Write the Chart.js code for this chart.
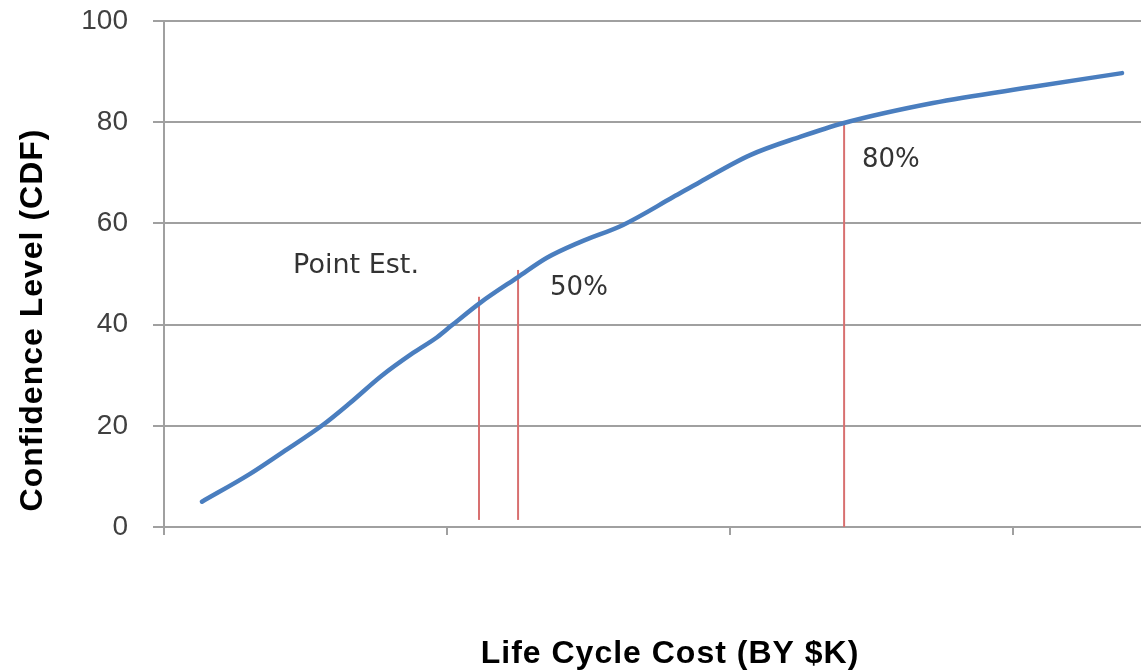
<!DOCTYPE html>
<html>
<head>
<meta charset="utf-8">
<style>
  html, body { margin: 0; padding: 0; background: #ffffff; }
  #wrap { width: 1141px; height: 671px; }
</style>
<script src="https://cdn.jsdelivr.net/npm/chart.js@4.4.1/dist/chart.umd.min.js"></script>
</head>
<body>
<div id="wrap"><canvas id="c" width="1141" height="671"></canvas></div>
<script>
// ---- data ----
const curveX = [0.134, 0.304, 0.420, 0.562, 0.657, 0.767, 0.880, 0.965, 1.018, 1.117, 1.251, 1.353, 1.470, 1.622, 1.799, 1.894, 2.071, 2.247, 2.399, 2.717, 3.071, 3.385];
const curveY = [5.0, 10.5, 14.8, 20.2, 24.5, 29.8, 34.4, 37.5, 39.9, 44.3, 49.4, 53.2, 56.3, 59.7, 65.2, 68.2, 73.5, 77.1, 79.8, 83.8, 87.0, 89.7];

const markerX = [1.113, 1.251, 2.403];
const markerBottom = [1.4, 1.4, 0];
const markerTop = [45.5, 50.8, 80];

const labelText = ['Point Est.', '50%', '80%'];
const labelX = [0.456, 1.364, 2.466];
const labelY = [50.2, 45.8, 71.1];

const yTicks = [0, 20, 40, 60, 80, 100];
const xTitle = 'Life Cycle Cost (BY $K)';
const yTitle = 'Confidence Level (CDF)';

// ---- build datasets ----
const curveData = curveX.map((x, i) => ({ x: x, y: curveY[i] }));
const datasets = [{
  label: 'CDF',
  data: curveData,
  borderColor: '#4a7ebf',
  borderWidth: 4.5,
  pointRadius: 0,
  cubicInterpolationMode: 'monotone',
  borderCapStyle: 'round',
  fill: false,
  order: 0
}];
markerX.forEach((x, i) => {
  datasets.push({
    label: 'marker' + i,
    data: [{ x: x, y: markerBottom[i] }, { x: x, y: markerTop[i] }],
    borderColor: '#d87070',
    borderWidth: 2,
    pointRadius: 0,
    fill: false,
    order: 1
  });
});

const textPlugin = {
  id: 'texts',
  afterDraw(chart) {
    const ctx = chart.ctx;
    const xs = chart.scales.x, ys = chart.scales.y;
    ctx.save();
    ctx.fillStyle = '#333333';
    ctx.textAlign = 'left';
    ctx.textBaseline = 'alphabetic';
    labelText.forEach((t, i) => {
      ctx.font = (i === 0 ? '27px' : '26px') + ' "DejaVu Sans"';
      ctx.fillText(t, xs.getPixelForValue(labelX[i]), ys.getPixelForValue(labelY[i]));
    });
    // axis titles
    ctx.fillStyle = '#000000';
    ctx.font = 'bold 32px "Liberation Sans", Arial, sans-serif';
    try { ctx.letterSpacing = '1px'; } catch (e) {}
    ctx.textAlign = 'center';
    ctx.fillText(xTitle, 670, 663);
    ctx.translate(42, 320);
    ctx.rotate(-Math.PI / 2);
    ctx.fillText(yTitle, 0, 0);
    ctx.restore();
  }
};

new Chart(document.getElementById('c'), {
  type: 'line',
  data: { datasets: datasets },
  options: {
    responsive: false,
    animation: false,
    devicePixelRatio: 1,
    layout: { padding: { top: 21, right: 0, left: 0, bottom: 0 } },
    plugins: { legend: { display: false }, tooltip: { enabled: false } },
    scales: {
      x: {
        type: 'linear',
        min: 0,
        max: 3.452,
        afterBuildTicks(scale) { scale.ticks = [0, 1, 2, 3].map(v => ({ value: v })); },
        ticks: { display: false },
        grid: { drawOnChartArea: false, drawTicks: true, tickLength: 8, color: '#a0a0a0', lineWidth: 2 },
        border: { display: true, color: '#a0a0a0', width: 2 },
        afterFit(scale) { scale.height = 144; scale.paddingLeft = 0; scale.paddingRight = 0; }
      },
      y: {
        type: 'linear',
        min: 0,
        max: 100,
        afterBuildTicks(scale) { scale.ticks = yTicks.map(v => ({ value: v })); },
        ticks: {
          padding: 25,
          color: '#404040',
          font: { family: '"Liberation Sans", Arial, sans-serif', size: 28 }
        },
        grid: { color: '#a0a0a0', lineWidth: 2, tickLength: 11, drawTicks: true },
        border: { display: true, color: '#a0a0a0', width: 2 },
        afterFit(scale) { scale.width = 164; scale.paddingTop = 0; scale.paddingBottom = 0; }
      }
    }
  },
  plugins: [textPlugin]
});
</script>
</body>
</html>
